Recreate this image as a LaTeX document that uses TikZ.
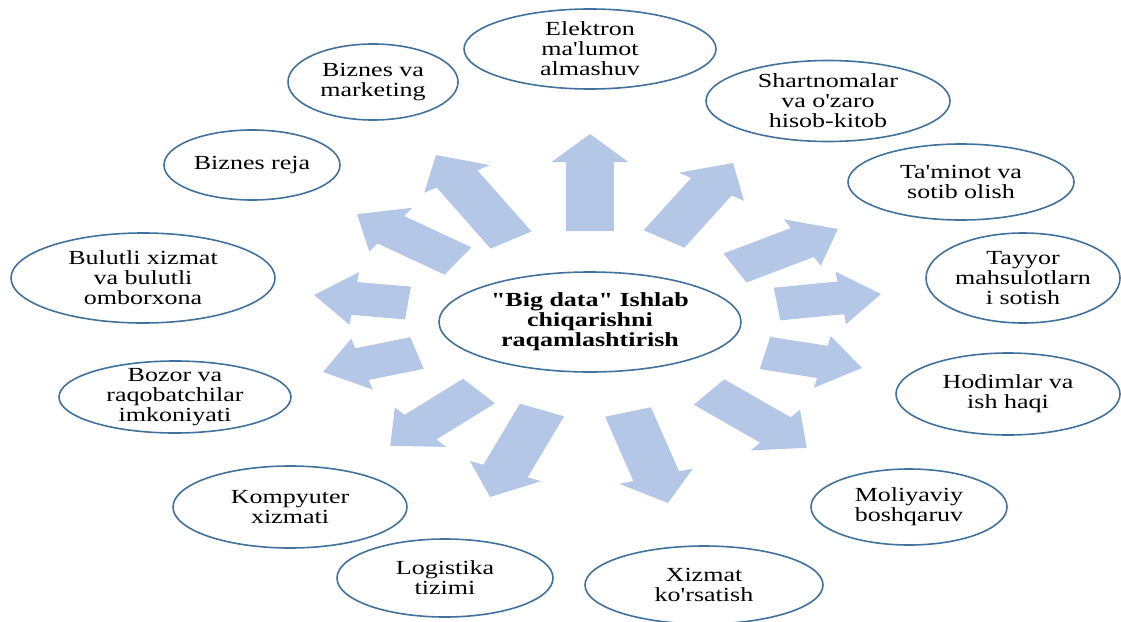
\documentclass[tikz,border=0pt]{standalone}
\usepackage{fontspec}
\usetikzlibrary{shapes.geometric}
\newfontfamily\lblfont{Liberation Serif}[FakeStretch=1.3]
\definecolor{arrowblue}{HTML}{B4C7E7}
\definecolor{ovalblue}{HTML}{41719C}
\def\arrSX{1.45}
\def\arrW{16.5}
\def\arrH{26.5}
\def\arrL{28}
\newcommand\blockarr[4]{%
  \pgfmathsetmacro\arrdx{((#3)-(#1))/\arrSX}%
  \pgfmathsetmacro\arrdy{(#2)-(#4)}%
  \pgfmathsetmacro\arrang{atan2(\arrdy,\arrdx)}%
  \pgfmathsetmacro\arrlen{veclen(\arrdx,\arrdy)}%
  \pgfmathsetmacro\arrbase{\arrlen-\arrL}%
  \begin{scope}[xscale=\arrSX]
    \fill[blockfill, shift={({(#1)/\arrSX},{#2})}, rotate=\arrang]
      (0pt,-\arrW pt) -- (\arrbase pt,-\arrW pt) -- (\arrbase pt,-\arrH pt)
      -- (\arrlen pt,0pt) -- (\arrbase pt,\arrH pt) -- (\arrbase pt,\arrW pt)
      -- (0pt,\arrW pt) -- cycle;
  \end{scope}}
\newcommand\ovalnode[6]{%
  \node[oval, minimum width=#4pt, minimum height=#5pt] (#1) at (#2,#3) {};
  \node[lbl] (#1-t) at (#1.center) {#6};}
\tikzset{
  blockfill/.style={fill=arrowblue, draw=none},
  oval/.style={ellipse, draw=ovalblue, line width=1.6pt, fill=white, inner sep=0pt},
  lbl/.style={font=\lblfont\fontsize{20}{20}\selectfont, align=center, inner sep=0pt, text=black},
  centerlbl/.style={lbl, font=\lblfont\bfseries\fontsize{20}{20}\selectfont}
}
\begin{document}
\begin{tikzpicture}[x=1pt, y=-1pt]
\useasboundingbox (0,0) rectangle (1121,621);
\clip (0,0) rectangle (1121,621);
% arrows
\blockarr{590}{231}{590}{134}
\blockarr{664}{239}{733}{163}
\blockarr{735}{268}{838}{229}
\blockarr{777}{304}{881}{294}
\blockarr{765}{353}{862}{368}
\blockarr{709}{392}{807}{448}
\blockarr{628}{412}{668}{503}
\blockarr{542}{410}{490}{497}
\blockarr{479}{391}{390}{446}
\blockarr{417}{353}{323}{372}
\blockarr{408}{303}{314}{295}
\blockarr{458}{261}{357}{214}
\blockarr{511}{240}{436}{155}
% center
\node[oval, minimum width=302pt, minimum height=100pt] (c) at (590,322) {};
\node[centerlbl] (c-t) at (c.center) {"Big data" Ishlab\\chiqarishni\\raqamlashtirish};
% outer ovals
\ovalnode{n1}{590}{49}{252}{80}{Elektron\\ma'lumot\\almashuv}
\ovalnode{n2}{828}{101}{244}{81}{Shartnomalar\\va o'zaro\\hisob-kitob}
\ovalnode{n3}{961}{182}{226}{76}{Ta'minot va\\sotib olish}
\ovalnode{n4}{1023}{278}{194}{90}{Tayyor\\mahsulotlarn\\i sotish}
\ovalnode{n5}{1008}{394}{224}{82}{Hodimlar va\\ish haqi}
\ovalnode{n6}{909}{507}{196}{76}{Moliyaviy\\boshqaruv}
\ovalnode{n7}{704}{585}{238}{78}{Xizmat\\ko'rsatish}
\ovalnode{n8}{445}{578}{216}{78}{Logistika\\tizimi}
\ovalnode{n9}{290}{507}{234}{82}{Kompyuter\\xizmati}
\ovalnode{n10}{175}{397}{232}{72}{Bozor va\\raqobatchilar\\imkoniyati}
\ovalnode{n11}{143}{278}{264}{90}{Bulutli xizmat\\va bulutli\\omborxona}
\ovalnode{n12}{252}{165}{176}{70}{Biznes reja}
\ovalnode{n13}{373}{82}{170}{76}{Biznes va\\marketing}
\end{tikzpicture}
\end{document}
